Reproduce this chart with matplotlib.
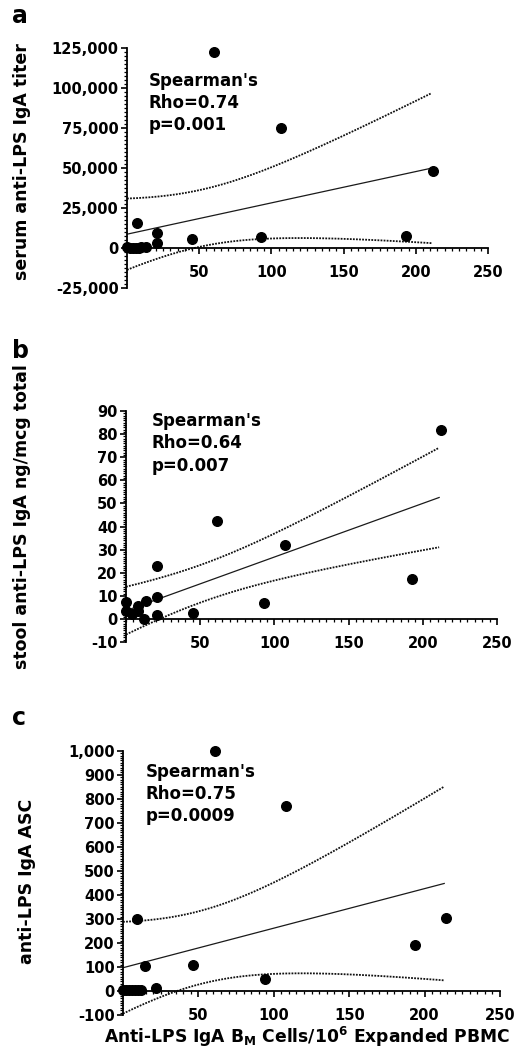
import numpy as np
import matplotlib
matplotlib.use("Agg")
import matplotlib.pyplot as plt
from matplotlib.ticker import MultipleLocator, FuncFormatter

plt.rcParams['font.family'] = ['DejaVu Sans']
plt.rcParams['font.weight'] = 'bold'
plt.rcParams['mathtext.default'] = 'bf'

# anti-LPS IgA BM cells per 10^6 expanded PBMC (x) against each readout (y)
bm_a = [0, 2, 4, 6, 8, 10, 13, 7, 20.6, 20.6, 45, 60, 93, 107, 193, 212]
serum_titer = [500, 0, 0, 0, 0, 500, 1000, 15400, 9500, 2900, 6000, 122000, 7000, 75000, 7500, 48000]

bm_b = [0, 0, 4, 8, 8, 12, 13.5, 20.7, 20.7, 20.7, 45.4, 61, 93, 107, 193, 212]
stool_iga = [7.3, 3.3, 2.2, 3.5, 5.8, 0, 7.6, 23.1, 9.5, 1.9, 2.4, 42.3, 6.9, 32.2, 17.5, 82]

bm_c = [0, 2, 4, 6, 8, 10, 12, 9, 14.5, 22, 46.5, 61, 94, 108, 193.6, 214]
asc_iga = [5, 5, 5, 5, 5, 5, 5, 300, 105, 12, 110, 1000, 51, 769, 192, 302]

notes = ["Spearman's\nRho=0.74\np=0.001",
         "Spearman's\nRho=0.64\np=0.007",
         "Spearman's\nRho=0.75\np=0.0009"]

T_CRIT = 2.145  # two-sided 95%, 14 df


def comma(v, pos):
    return f"{v:,.0f}"


def draw_panel(ax, x, y, ylim, ymajor, yminor, note, note_xy):
    x = np.asarray(x, float)
    y = np.asarray(y, float)
    n = len(x)
    slope, icpt = np.polyfit(x, y, 1)
    s = np.sqrt(np.sum((y - (icpt + slope * x)) ** 2) / (n - 2))
    sxx = np.sum((x - x.mean()) ** 2)
    xs = np.linspace(x.min(), x.max() - 1, 200)
    fit = icpt + slope * xs
    half = T_CRIT * s * np.sqrt(1 / n + (xs - x.mean()) ** 2 / sxx)

    ax.plot(xs, fit, color='#1a1a1a', lw=0.9)
    ax.plot(xs, fit + half, color='#111111', lw=1.3, ls=(0, (1, 0.7)))
    ax.plot(xs, fit - half, color='#111111', lw=1.3, ls=(0, (1, 0.7)))
    ax.scatter(x, y, s=48, color='black', clip_on=False, zorder=5)

    ax.set_xlim(0, 250)
    ax.set_ylim(*ylim)
    ax.spines['bottom'].set_position(('data', 0))
    ax.spines['top'].set_visible(False)
    ax.spines['right'].set_visible(False)
    ax.spines['left'].set_linewidth(1.3)
    ax.spines['bottom'].set_linewidth(1.3)
    ax.set_xticks([50, 100, 150, 200, 250])
    ax.xaxis.set_minor_locator(MultipleLocator(5))
    ax.yaxis.set_major_locator(MultipleLocator(ymajor))
    ax.yaxis.set_minor_locator(MultipleLocator(yminor))
    ax.yaxis.set_major_formatter(FuncFormatter(comma))
    ax.tick_params(which='major', direction='out', length=4, width=1.2, labelsize=10.5)
    ax.tick_params(which='minor', direction='out', length=2.2, width=0.9)
    ax.tick_params(axis='x', which='major', pad=8)
    ax.tick_params(axis='y', which='major', pad=2)
    ax.text(note_xy[0], note_xy[1], note, transform=ax.transAxes, ha='left', va='top',
            fontsize=12, linespacing=1.3)


fig = plt.figure(figsize=(5.16, 10.57), dpi=100)

ax_a = fig.add_axes([0.2461, 0.7273, 0.6996, 0.2277])
draw_panel(ax_a, bm_a, serum_titer, (-25000, 125000), 25000, 2500, notes[0], (0.06, 0.90))

ax_b = fig.add_axes([0.2442, 0.3926, 0.7190, 0.2185])
draw_panel(ax_b, bm_b, stool_iga, (-10, 90), 10, 1, notes[1], (0.07, 0.995))

ax_c = fig.add_axes([0.2384, 0.0397, 0.7306, 0.2500])
draw_panel(ax_c, bm_c, asc_iga, (-100, 1000), 100, 10, notes[2], (0.06, 0.955))

H = 1057.0
fig.text(12 / 516, 1 - 23 / H, "a", fontsize=17, ha='left', va='baseline')
fig.text(12 / 516, 1 - 358 / H, "b", fontsize=17, ha='left', va='baseline')
fig.text(12 / 516, 1 - 725 / H, "c", fontsize=17, ha='left', va='baseline')

fig.text(22 / 516, 1 - 162 / H, "serum anti-LPS IgA titer", rotation=90,
         fontsize=12.5, ha='center', va='center')
fig.text(22 / 516, 1 - 517 / H, "stool anti-LPS IgA ng/mcg total", rotation=90,
         fontsize=12.5, ha='center', va='center')
fig.text(27 / 516, 1 - 881 / H, "anti-LPS IgA ASC", rotation=90,
         fontsize=12.5, ha='center', va='center')
fig.text(307 / 516, 1 - 1037 / H, r"Anti-LPS IgA B$_M$ Cells/10$^6$ Expanded PBMC",
         fontsize=12.3, ha='center', va='center')

fig.savefig("out.png", dpi=100)
